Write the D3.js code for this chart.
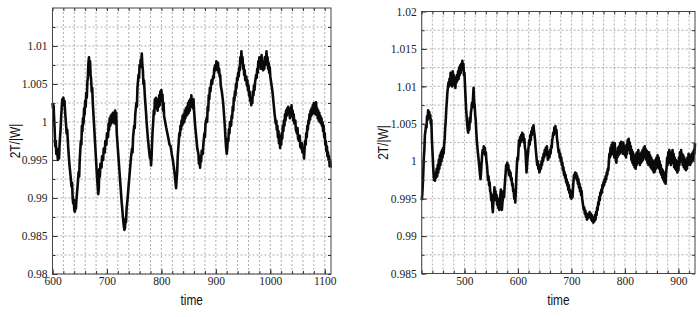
<!DOCTYPE html>
<html>
<head>
<meta charset="utf-8">
<script src="https://cdn.jsdelivr.net/npm/d3@7"></script>
<style>
  body { margin: 0; background: #fff; }
  .tick text { font-family: "Liberation Serif", "DejaVu Serif", serif; font-size: 11.5px; fill: #222; }
  .axis path.domain { display: none; }
  .axis line { stroke: #333; }
  .title { font-family: "Liberation Sans", Arial, sans-serif; font-size: 14.5px; fill: #111; }
</style>
</head>
<body>
<script>
//Labels
var xLabel = "time";
var yLabel = "2T/|W|";

//Tick values
var leftXTicks = [600, 700, 800, 900, 1000, 1100];
var leftYTicks = [0.98, 0.985, 0.99, 0.995, 1, 1.005, 1.01];
var rightXTicks = [500, 600, 700, 800, 900];
var rightYTicks = [0.985, 0.99, 0.995, 1, 1.005, 1.01, 1.015, 1.02];

//Left panel: [time, 2T/|W|]
var leftSeries = [
  [600,1.0025],[601,1.0018],[602,1.0022],[603,1.0005],[604,0.9990],[605,0.9968],[606,0.9975],[607,0.9958],[608,0.9965],
  [610,0.9950],[611,0.9958],[612,0.9952],[613,0.9970],[614,0.9982],[615,0.9992],[616,1.0008],[617,1.0020],[618,1.0030],
  [619,1.0026],[620,1.0032],[621,1.0022],[622,1.0028],[623,1.0015],[624,1.0005],[626,0.9985],[627,0.9990],[629,0.9965],
  [631,0.9945],[633,0.9930],[635,0.9915],[636,0.9920],[637,0.9900],[638,0.9893],[639,0.9898],[640,0.9884],[641,0.9882],
  [642,0.9890],[643,0.9886],[644,0.9898],[646,0.9915],[648,0.9934],[649,0.9928],[650,0.9950],[652,0.9975],[653,0.9970],
  [654,0.9995],[655,0.9988],[656,1.0005],[657,0.9998],[658,1.0018],[659,1.0010],[660,1.0028],[661,1.0020],[662,1.0038],
  [663,1.0032],[664,1.0052],[665,1.0060],[666,1.0078],[667,1.0085],[668,1.0072],[669,1.0080],[670,1.0062],[671,1.0055],
  [672,1.0040],[673,1.0045],[674,1.0025],[676,1.0000],[678,0.9975],[680,0.9950],[682,0.9925],[684,0.9905],[685,0.9912],
  [686,0.9938],[687,0.9928],[688,0.9945],[690,0.9940],[691,0.9955],[693,0.9950],[694,0.9965],[696,0.9960],[697,0.9975],
  [699,0.9970],[700,0.9985],[702,0.9980],[703,0.9998],[704,0.9990],[705,1.0005],[706,0.9995],[707,1.0008],[708,0.9998],
  [709,1.0010],[710,1.0000],[711,1.0012],[712,1.0002],[713,1.0008],[714,0.9998],[715,1.0015],[716,1.0005],[717,1.0012],
  [718,0.9985],[719,0.9975],[721,0.9955],[723,0.9935],[725,0.9915],[727,0.9895],[729,0.9878],[730,0.9870],[731,0.9863],
  [732,0.9858],[733,0.9860],[734,0.9872],[735,0.9868],[736,0.9885],[738,0.9900],[740,0.9918],[742,0.9935],[744,0.9952],
  [746,0.9965],[747,0.9960],[748,0.9980],[750,0.9995],[751,0.9992],[752,1.0010],[754,1.0025],[755,1.0020],[756,1.0045],
  [758,1.0062],[759,1.0058],[760,1.0075],[761,1.0072],[762,1.0082],[763,1.0078],[764,1.0090],[765,1.0075],[766,1.0068],
  [767,1.0050],[768,1.0055],[770,1.0030],[772,1.0010],[773,0.9998],[775,0.9980],[777,0.9965],[779,0.9952],[780,0.9958],
  [781,0.9943],[782,0.9955],[783,0.9975],[784,0.9990],[785,1.0000],[786,1.0015],[787,1.0010],[788,1.0030],[789,1.0020],
  [790,1.0032],[791,1.0018],[792,1.0028],[793,1.0015],[794,1.0030],[795,1.0020],[796,1.0035],[797,1.0022],[798,1.0040],
  [799,1.0028],[800,1.0042],[801,1.0030],[802,1.0036],[803,1.0015],[804,1.0025],[805,1.0008],[807,1.0000],[809,0.9992],
  [811,0.9985],[813,0.9978],[815,0.9970],[817,0.9968],[819,0.9958],[821,0.9950],[823,0.9940],[825,0.9928],[826,0.9920],
  [827,0.9913],[828,0.9925],[829,0.9935],[830,0.9955],[832,0.9975],[833,0.9985],[834,0.9982],[835,0.9995],[836,0.9990],
  [837,1.0002],[838,0.9995],[839,1.0008],[840,0.9998],[841,1.0010],[842,1.0000],[843,1.0015],[844,1.0005],[845,1.0018],
  [846,1.0008],[847,1.0020],[848,1.0010],[849,1.0025],[850,1.0012],[851,1.0028],[852,1.0015],[853,1.0030],[854,1.0020],
  [855,1.0035],[856,1.0022],[857,1.0028],[858,1.0018],[859,1.0030],[860,1.0015],[861,1.0005],[862,0.9995],[864,0.9980],
  [866,0.9965],[868,0.9958],[869,0.9945],[870,0.9955],[871,0.9940],[872,0.9952],[873,0.9948],[874,0.9962],[876,0.9958],
  [877,0.9970],[879,0.9985],[880,0.9980],[881,0.9998],[883,1.0005],[884,1.0000],[885,1.0020],[886,1.0015],[887,1.0035],
  [888,1.0030],[889,1.0045],[890,1.0040],[892,1.0055],[893,1.0050],[895,1.0060],[896,1.0058],[897,1.0070],[899,1.0075],
  [900,1.0068],[901,1.0080],[902,1.0076],[903,1.0072],[904,1.0078],[905,1.0065],[906,1.0070],[907,1.0060],[908,1.0062],
  [909,1.0048],[911,1.0040],[913,1.0028],[914,1.0020],[916,1.0000],[918,0.9975],[919,0.9965],[920,0.9958],[921,0.9965],
  [922,0.9978],[923,0.9975],[924,0.9990],[925,0.9985],[926,1.0000],[928,0.9995],[929,1.0008],[930,1.0005],[931,1.0020],
  [932,1.0015],[933,1.0032],[934,1.0028],[935,1.0040],[936,1.0035],[937,1.0050],[938,1.0045],[939,1.0058],[940,1.0055],
  [941,1.0065],[942,1.0060],[943,1.0072],[944,1.0068],[945,1.0085],[946,1.0080],[947,1.0093],[948,1.0078],[949,1.0085],
  [950,1.0070],[951,1.0075],[952,1.0062],[953,1.0068],[954,1.0055],[956,1.0060],[957,1.0048],[958,1.0055],[959,1.0042],
  [960,1.0048],[961,1.0035],[962,1.0040],[963,1.0028],[964,1.0032],[965,1.0022],[966,1.0030],[967,1.0025],[968,1.0040],
  [969,1.0035],[970,1.0048],[971,1.0042],[972,1.0052],[974,1.0062],[975,1.0058],[976,1.0070],[977,1.0065],[978,1.0080],
  [979,1.0072],[980,1.0085],[981,1.0075],[982,1.0082],[983,1.0070],[984,1.0088],[985,1.0075],[986,1.0080],[987,1.0068],
  [988,1.0078],[989,1.0070],[990,1.0085],[991,1.0075],[992,1.0082],[993,1.0093],[994,1.0078],[995,1.0085],[996,1.0070],
  [997,1.0078],[998,1.0065],[999,1.0072],[1000,1.0060],[1001,1.0055],[1003,1.0045],[1004,1.0040],[1006,1.0025],[1008,1.0010],
  [1010,0.9998],[1011,1.0002],[1012,0.9990],[1013,0.9995],[1014,0.9980],[1015,0.9988],[1016,0.9972],[1017,0.9982],[1018,0.9966],
  [1019,0.9978],[1020,0.9970],[1021,0.9985],[1022,0.9978],[1023,0.9995],[1024,0.9988],[1025,1.0002],[1026,0.9995],[1027,1.0010],
  [1028,1.0002],[1029,1.0015],[1030,1.0008],[1031,1.0018],[1032,1.0010],[1033,1.0020],[1034,1.0012],[1035,1.0015],[1036,1.0005],
  [1037,1.0018],[1038,1.0008],[1039,1.0022],[1040,1.0012],[1041,1.0015],[1042,1.0002],[1043,1.0010],[1044,0.9998],[1046,1.0002],
  [1047,0.9990],[1049,0.9985],[1050,0.9992],[1051,0.9978],[1053,0.9975],[1054,0.9982],[1055,0.9968],[1057,0.9965],[1058,0.9972],
  [1059,0.9960],[1061,0.9962],[1062,0.9952],[1063,0.9965],[1064,0.9975],[1065,0.9970],[1066,0.9985],[1067,0.9980],[1068,0.9995],
  [1069,0.9990],[1070,1.0002],[1071,0.9998],[1072,1.0010],[1073,1.0003],[1074,1.0015],[1075,1.0008],[1076,1.0018],[1077,1.0010],
  [1078,1.0022],[1079,1.0015],[1080,1.0025],[1081,1.0012],[1082,1.0020],[1083,1.0010],[1084,1.0026],[1085,1.0015],[1086,1.0018],
  [1087,1.0005],[1088,1.0015],[1089,1.0002],[1090,1.0012],[1091,1.0000],[1092,1.0008],[1093,0.9998],[1094,1.0005],[1095,0.9995],
  [1096,1.0000],[1097,0.9988],[1098,0.9995],[1099,0.9980],[1100,0.9985],[1101,0.9970],[1102,0.9975],[1103,0.9962],[1104,0.9968],
  [1105,0.9955],[1106,0.9960],[1107,0.9950],[1108,0.9955],[1109,0.9942],[1110,0.9950],[1111,0.9940]
];

//Right panel: [time, 2T/|W|]
var rightSeries = [
  [420,0.9948],[421,0.9955],[422,0.9968],[423,0.9985],[424,1.0005],[425,1.0015],[426,1.0035],[427,1.0040],[428,1.0048],
  [429,1.0045],[430,1.0060],[431,1.0055],[432,1.0068],[433,1.0062],[434,1.0066],[435,1.0058],[436,1.0062],[437,1.0050],
  [438,1.0055],[439,1.0030],[440,1.0015],[441,1.0000],[442,0.9985],[443,0.9975],[444,0.9982],[445,0.9974],[446,0.9985],
  [447,0.9978],[448,0.9990],[449,0.9980],[450,0.9995],[451,0.9985],[452,1.0002],[453,0.9990],[454,1.0008],[455,0.9995],
  [456,1.0012],[457,1.0000],[458,1.0015],[459,1.0005],[460,1.0018],[461,1.0010],[462,1.0022],[463,1.0030],[464,1.0045],
  [465,1.0055],[466,1.0070],[467,1.0080],[468,1.0092],[469,1.0098],[470,1.0105],[471,1.0100],[472,1.0110],[473,1.0102],
  [474,1.0118],[475,1.0105],[476,1.0112],[477,1.0100],[478,1.0120],[479,1.0108],[480,1.0115],[481,1.0102],[482,1.0110],
  [483,1.0098],[484,1.0112],[485,1.0105],[486,1.0115],[487,1.0108],[488,1.0120],[489,1.0110],[490,1.0125],[491,1.0115],
  [492,1.0128],[493,1.0118],[494,1.0130],[495,1.0122],[496,1.0134],[497,1.0125],[498,1.0130],[499,1.0115],[500,1.0118],
  [501,1.0100],[502,1.0085],[503,1.0070],[504,1.0060],[505,1.0050],[506,1.0042],[507,1.0038],[508,1.0048],[509,1.0042],
  [510,1.0058],[511,1.0052],[512,1.0065],[513,1.0070],[514,1.0078],[515,1.0072],[516,1.0085],[517,1.0098],[518,1.0080],
  [519,1.0075],[520,1.0062],[521,1.0055],[522,1.0040],[523,1.0028],[524,1.0020],[525,1.0012],[526,1.0005],[527,0.9998],
  [528,0.9990],[529,0.9982],[530,0.9976],[531,0.9985],[532,0.9998],[533,1.0008],[534,1.0015],[535,1.0010],[536,1.0020],
  [537,1.0012],[538,1.0018],[539,1.0008],[540,1.0012],[541,1.0000],[542,0.9995],[543,0.9985],[544,0.9975],[545,0.9980],
  [546,0.9968],[547,0.9972],[548,0.9960],[549,0.9958],[550,0.9948],[551,0.9955],[552,0.9940],[553,0.9932],[554,0.9945],
  [555,0.9952],[556,0.9965],[557,0.9955],[558,0.9960],[559,0.9948],[560,0.9955],[561,0.9942],[562,0.9950],[563,0.9938],
  [564,0.9945],[565,0.9935],[566,0.9948],[567,0.9955],[568,0.9962],[569,0.9945],[570,0.9935],[571,0.9945],[572,0.9950],
  [573,0.9960],[574,0.9952],[575,0.9965],[576,0.9975],[577,0.9985],[578,0.9995],[579,0.9988],[580,0.9998],[581,0.9990],
  [582,0.9995],[583,0.9982],[584,0.9988],[585,0.9980],[586,0.9985],[587,0.9975],[588,0.9978],[589,0.9968],[590,0.9970],
  [591,0.9960],[592,0.9962],[593,0.9950],[594,0.9955],[595,0.9945],[596,0.9960],[597,0.9980],[598,0.9995],[599,1.0005],
  [600,1.0002],[601,1.0015],[602,1.0028],[603,1.0020],[604,1.0032],[605,1.0025],[606,1.0035],[607,1.0028],[608,1.0038],
  [609,1.0030],[610,1.0036],[611,1.0025],[612,1.0030],[613,1.0018],[614,1.0015],[615,1.0000],[616,0.9985],[617,0.9995],
  [618,1.0005],[619,1.0012],[620,1.0020],[621,1.0028],[622,1.0022],[623,1.0035],[624,1.0028],[625,1.0040],[626,1.0035],
  [627,1.0045],[628,1.0038],[629,1.0048],[630,1.0040],[631,1.0035],[632,1.0028],[633,1.0018],[634,1.0010],[635,1.0002],
  [636,0.9995],[637,1.0000],[638,0.9990],[639,0.9995],[640,0.9985],[641,0.9988],[642,0.9995],[643,0.9990],[644,1.0000],
  [645,0.9995],[646,1.0005],[647,1.0000],[648,1.0010],[649,1.0005],[650,1.0015],[651,1.0008],[652,1.0018],[653,1.0012],
  [654,1.0020],[655,1.0010],[656,1.0002],[657,1.0005],[658,1.0012],[659,1.0005],[660,1.0015],[661,1.0010],[662,1.0020],
  [663,1.0018],[664,1.0028],[665,1.0032],[666,1.0038],[667,1.0035],[668,1.0045],[669,1.0040],[670,1.0047],[671,1.0038],
  [672,1.0042],[673,1.0030],[674,1.0025],[675,1.0018],[676,1.0012],[677,1.0015],[678,1.0005],[679,1.0010],[680,1.0000],
  [681,1.0005],[682,0.9995],[683,0.9998],[684,0.9988],[685,0.9992],[686,0.9982],[687,0.9986],[688,0.9978],[689,0.9982],
  [690,0.9972],[691,0.9976],[692,0.9968],[693,0.9972],[694,0.9962],[695,0.9968],[696,0.9958],[697,0.9962],[698,0.9952],
  [699,0.9958],[700,0.9950],[701,0.9960],[702,0.9952],[703,0.9965],[704,0.9975],[705,0.9982],[706,0.9978],[707,0.9985],
  [708,0.9980],[709,0.9984],[710,0.9975],[711,0.9980],[712,0.9970],[713,0.9976],[714,0.9965],[715,0.9970],[716,0.9960],
  [717,0.9965],[718,0.9955],[719,0.9960],[720,0.9950],[721,0.9945],[722,0.9940],[723,0.9935],[724,0.9938],[725,0.9930],
  [726,0.9934],[727,0.9926],[728,0.9930],[729,0.9922],[730,0.9928],[731,0.9924],[732,0.9930],[733,0.9926],[734,0.9932],
  [735,0.9925],[736,0.9930],[737,0.9922],[738,0.9928],[739,0.9920],[740,0.9925],[741,0.9918],[742,0.9924],[743,0.9920],
  [744,0.9928],[745,0.9922],[746,0.9932],[747,0.9928],[748,0.9938],[749,0.9935],[750,0.9945],[751,0.9942],[752,0.9952],
  [753,0.9948],[754,0.9958],[755,0.9955],[756,0.9962],[757,0.9958],[758,0.9968],[759,0.9965],[760,0.9972],[761,0.9968],
  [762,0.9976],[763,0.9972],[764,0.9980],[765,0.9976],[766,0.9985],[767,0.9982],[768,0.9990],[769,0.9988],[770,1.0000],
  [771,1.0010],[772,1.0005],[773,1.0018],[774,1.0008],[775,1.0022],[776,1.0010],[777,1.0025],[778,1.0012],[779,1.0020],
  [780,1.0005],[781,1.0024],[782,1.0008],[783,1.0002],[784,0.9998],[785,1.0012],[786,1.0005],[787,1.0018],[788,1.0008],
  [789,1.0020],[790,1.0010],[791,1.0024],[792,1.0012],[793,1.0026],[794,1.0015],[795,1.0022],[796,1.0010],[797,1.0025],
  [798,1.0012],[799,1.0020],[800,1.0008],[801,1.0018],[802,1.0005],[803,1.0022],[804,1.0010],[805,1.0028],[806,1.0015],
  [807,1.0030],[808,1.0018],[809,1.0025],[810,1.0010],[811,1.0020],[812,1.0002],[813,1.0015],[814,0.9998],[815,1.0012],
  [816,0.9995],[817,1.0008],[818,0.9992],[819,1.0005],[820,0.9990],[821,1.0010],[822,0.9995],[823,1.0012],[824,0.9998],
  [825,1.0015],[826,1.0002],[827,1.0010],[828,0.9995],[829,1.0008],[830,0.9998],[831,1.0012],[832,1.0000],[833,1.0015],
  [834,1.0002],[835,1.0018],[836,1.0005],[837,1.0020],[838,1.0008],[839,1.0016],[840,1.0002],[841,1.0014],[842,0.9998],
  [843,1.0010],[844,0.9995],[845,1.0012],[846,0.9998],[847,1.0008],[848,0.9992],[849,1.0005],[850,0.9990],[851,1.0002],
  [852,0.9988],[853,1.0000],[854,0.9985],[855,0.9998],[856,0.9986],[857,1.0002],[858,0.9990],[859,1.0005],[860,0.9992],
  [861,1.0008],[862,0.9995],[863,1.0005],[864,0.9990],[865,1.0000],[866,0.9985],[867,0.9995],[868,0.9982],[869,0.9990],
  [870,0.9978],[871,0.9988],[872,0.9975],[873,0.9985],[874,0.9972],[875,0.9980],[876,0.9970],[877,0.9985],[878,0.9992],
  [879,1.0005],[880,0.9995],[881,1.0012],[882,0.9998],[883,1.0015],[884,1.0002],[885,1.0010],[886,0.9995],[887,1.0012],
  [888,0.9998],[889,1.0015],[890,1.0000],[891,1.0010],[892,0.9992],[893,1.0005],[894,0.9990],[895,1.0002],[896,0.9988],
  [897,1.0000],[898,0.9985],[899,0.9998],[900,0.9988],[901,1.0005],[902,0.9995],[903,1.0012],[904,1.0000],[905,1.0015],
  [906,1.0002],[907,1.0010],[908,0.9995],[909,1.0008],[910,0.9992],[911,1.0005],[912,0.9990],[913,1.0002],[914,0.9988],
  [915,1.0000],[916,0.9990],[917,1.0005],[918,0.9995],[919,1.0010],[920,0.9998],[921,1.0008],[922,0.9995],[923,1.0006],
  [924,0.9998],[925,1.0010],[926,1.0000],[927,1.0012],[928,1.0002],[929,1.0015],[930,1.0010],[931,1.0024]
];

var w = 699;
var h = 317;

var svg = d3.select("body")
  .append("svg")
  .attr("width", w)
  .attr("height", h);

//Draw one framed panel with dashed grid, inward ticks and the curve
function drawPanel(p) {
  var xScale = d3.scaleLinear().domain(p.xDomain).range([p.left, p.right]);
  var yScale = d3.scaleLinear().domain(p.yDomain).range([p.bottom, p.top]);

  var xMinor = d3.range(Math.ceil(p.xDomain[0] / 20) * 20, p.xDomain[1], 20);
  var yMinor = d3.range(0, 15).map(function(i) { return +(p.yDomain[0] + i * 0.0025).toFixed(4); })
    .filter(function(v) { return v < p.yDomain[1]; });

  var g = svg.append("g");

  //Grid
  g.selectAll("line.vgrid")
    .data(xMinor)
    .enter()
    .append("line")
    .attr("x1", d => xScale(d))
    .attr("x2", d => xScale(d))
    .attr("y1", p.top)
    .attr("y2", p.bottom)
    .attr("stroke", "#8c8c8c")
    .attr("stroke-width", 0.7)
    .attr("stroke-dasharray", "2,2");

  g.selectAll("line.hgrid")
    .data(yMinor)
    .enter()
    .append("line")
    .attr("x1", p.left)
    .attr("x2", p.right)
    .attr("y1", d => yScale(d))
    .attr("y2", d => yScale(d))
    .attr("stroke", "#8c8c8c")
    .attr("stroke-width", 0.7)
    .attr("stroke-dasharray", "2,2");

  //Curve
  var line = d3.line()
    .x(d => xScale(d[0]))
    .y(d => yScale(d[1]));

  g.append("path")
    .datum(p.data)
    .attr("d", line)
    .attr("fill", "none")
    .attr("stroke", "#0a0a0a")
    .attr("stroke-width", 2.6)
    .attr("stroke-linejoin", "round");

  //Minor ticks, all four sides
  g.append("g").attr("class", "axis")
    .attr("transform", "translate(0," + p.bottom + ")")
    .call(d3.axisBottom(xScale).tickValues(xMinor).tickSize(-3).tickFormat(""));
  g.append("g").attr("class", "axis")
    .attr("transform", "translate(0," + p.top + ")")
    .call(d3.axisTop(xScale).tickValues(xMinor).tickSize(-3).tickFormat(""));
  g.append("g").attr("class", "axis")
    .attr("transform", "translate(" + p.left + ",0)")
    .call(d3.axisLeft(yScale).tickValues(yMinor).tickSize(-3).tickFormat(""));
  g.append("g").attr("class", "axis")
    .attr("transform", "translate(" + p.right + ",0)")
    .call(d3.axisRight(yScale).tickValues(yMinor).tickSize(-3).tickFormat(""));

  //Labelled axes
  g.append("g").attr("class", "axis")
    .attr("transform", "translate(0," + p.bottom + ")")
    .call(d3.axisBottom(xScale).tickValues(p.xTicks).tickSize(-5).tickPadding(3).tickFormat(d3.format("d")));
  g.append("g").attr("class", "axis")
    .attr("transform", "translate(" + p.left + ",0)")
    .call(d3.axisLeft(yScale).tickValues(p.yTicks).tickSize(-5).tickPadding(5).tickFormat(d3.format("~g")));

  //Frame
  g.append("rect")
    .attr("x", p.left)
    .attr("y", p.top)
    .attr("width", p.right - p.left)
    .attr("height", p.bottom - p.top)
    .attr("fill", "none")
    .attr("stroke", "#444")
    .attr("stroke-width", 1);

  //Axis titles
  var cx = (p.left + p.right) / 2;
  g.append("text")
    .attr("class", "title")
    .attr("transform", "translate(" + cx + "," + (p.bottom + 31) + ") scale(0.82,1)")
    .attr("text-anchor", "middle")
    .text(xLabel);

  var cy = (p.top + p.bottom) / 2;
  g.append("text")
    .attr("class", "title")
    .attr("transform", "translate(" + p.yTitleX + "," + cy + ") rotate(-90) scale(0.82,1)")
    .attr("text-anchor", "middle")
    .text(yLabel);
}

drawPanel({
  data: leftSeries,
  xDomain: [600, 1111.5],
  yDomain: [0.98, 1.015],
  xTicks: leftXTicks,
  yTicks: leftYTicks,
  left: 52.5, right: 331, top: 8, bottom: 274,
  yTitleX: 20
});

drawPanel({
  data: rightSeries,
  xDomain: [420, 931],
  yDomain: [0.985, 1.02],
  xTicks: rightXTicks,
  yTicks: rightYTicks,
  left: 421.7, right: 695, top: 11.5, bottom: 273.5,
  yTitleX: 388
});
</script>
</body>
</html>
